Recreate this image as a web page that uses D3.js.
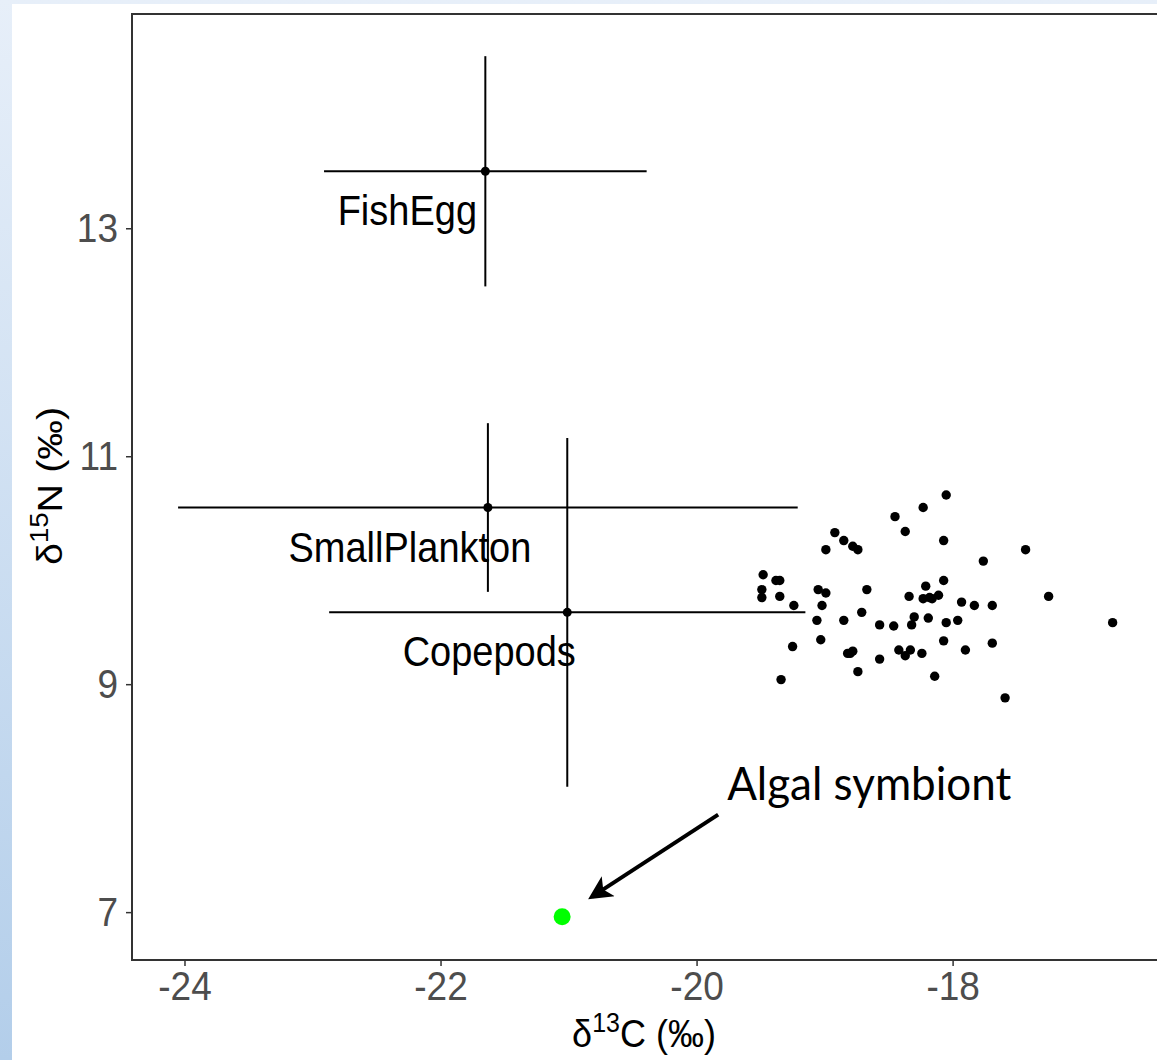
<!DOCTYPE html>
<html>
<head>
<meta charset="utf-8">
<script src="https://cdn.jsdelivr.net/npm/d3@7"></script>
<style>
  body { margin: 0; background: #fff; }
  #grafica { width: 1157px; height: 1060px; }
</style>
</head>
<body>
<div id="grafica"></div>
<script>
// Datos: grupos de presas (media ± desviación)
const grupos = ["FishEgg", "SmallPlankton", "Copepods"];
const mediaC = [-21.65, -21.63, -21.01];
const sdC = [1.26, 2.42, 1.86];
const mediaN = [13.50, 10.55, 9.63];
const sdN = [1.01, 0.74, 1.53];

// Datos: consumidores individuales (δ13C, δ15N)
const consumidorC = [
    -18.05, -18.23, -18.45, -18.37, -18.92, -18.85, -18.07, -18.78, -18.74, -18.99,
    -17.43, -17.76, -19.48, -19.38, -19.35, -18.07, -18.21, -19.49, -19.05, -18.99,
    -18.67, -19.49, -19.35, -18.34, -18.23, -18.18, -18.16, -18.11, -17.25, -19.24,
    -19.02, -17.93, -17.83, -17.69, -18.71, -19.06, -18.85, -18.30, -18.19, -18.32,
    -18.05, -17.96, -18.57, -18.46, -16.75, -19.25, -19.03, -18.07, -17.69, -18.82,
    -18.78, -18.80, -18.42, -18.33, -18.37, -18.24, -17.90, -18.57, -18.74, -18.14,
    -19.34, -17.59
];
const consumidorN = [
    10.66, 10.55, 10.47, 10.34, 10.33, 10.26, 10.26, 10.21, 10.18, 10.18,
    10.18, 10.08, 9.96, 9.91, 9.91, 9.91, 9.86, 9.83, 9.83, 9.80,
    9.83, 9.76, 9.77, 9.77, 9.75, 9.76, 9.75, 9.78, 9.77, 9.69,
    9.69, 9.72, 9.69, 9.69, 9.63, 9.56, 9.56, 9.59, 9.58, 9.52,
    9.54, 9.56, 9.52, 9.51, 9.54, 9.33, 9.39, 9.38, 9.36, 9.27,
    9.29, 9.27, 9.30, 9.30, 9.25, 9.27, 9.30, 9.22, 9.11, 9.07,
    9.04, 8.88
];

// Datos: simbionte algal
const simbionteC = [-21.05];
const simbionteN = [6.96];
const simbionteEtiqueta = ["Algal symbiont"];

// Ejes
const ticksX = [-24, -22, -20, -18];
const ticksY = [7, 9, 11, 13];

function dibujarGraficaIsotopos(DivArea) {
    // 1. Contenedor y lienzo
    const chartDiv = d3.select("#" + DivArea);
    chartDiv.selectAll("*").remove();

    const W = 1157, H = 1060;
    const panel = { left: 132, top: 14, right: 1160, bottom: 960 };
    const estira = 1.1; // el texto original sale algo estirado en vertical

    const svg = chartDiv
        .append("svg")
        .attr("width", W)
        .attr("height", H);

    // 2. Fondo tipo diapositiva (degradado azul claro en el borde)
    const defs = svg.append("defs");
    const grad = defs
        .append("linearGradient")
        .attr("id", "fondo")
        .attr("x1", 0).attr("y1", 0)
        .attr("x2", 0).attr("y2", 1);
    grad.append("stop").attr("offset", "0%").attr("stop-color", "#e7eff9");
    grad.append("stop").attr("offset", "100%").attr("stop-color", "#b3ceea");

    svg.append("rect")
        .attr("width", W).attr("height", H)
        .attr("fill", "url(#fondo)");
    svg.append("rect")
        .attr("x", 12).attr("y", 4)
        .attr("width", W - 12).attr("height", H - 4)
        .attr("fill", "#fff");

    // Marcador de flecha
    defs.append("marker")
        .attr("id", "flecha")
        .attr("viewBox", "0 0 10 10")
        .attr("refX", 8)
        .attr("refY", 5)
        .attr("markerWidth", 6.5)
        .attr("markerHeight", 6)
        .attr("markerUnits", "strokeWidth")
        .attr("orient", "auto")
        .append("path")
        .attr("d", "M0,0 L10,5 L0,10 L2.5,5 z")
        .attr("fill", "#000");

    // 3. Escalas
    const x = d3.scaleLinear()
        .domain([-24.41, -16.38])
        .range([panel.left, panel.right]);
    const y = d3.scaleLinear()
        .domain([6.58, 14.88])
        .range([panel.bottom, panel.top]);

    const fuente = "'Liberation Sans', Arial, sans-serif";

    // 4. Panel (borde)
    svg.append("rect")
        .attr("x", panel.left)
        .attr("y", panel.top)
        .attr("width", panel.right - panel.left + 20)
        .attr("height", panel.bottom - panel.top)
        .attr("fill", "none")
        .attr("stroke", "#333")
        .attr("stroke-width", 2);

    // 5. Ejes
    const ejeX = svg.append("g")
        .attr("transform", `translate(0,${panel.bottom})`)
        .call(d3.axisBottom(x).tickValues(ticksX).tickSize(6).tickPadding(4).tickFormat(d3.format("d")));
    const ejeY = svg.append("g")
        .attr("transform", `translate(${panel.left},0)`)
        .call(d3.axisLeft(y).tickValues(ticksY).tickSize(6).tickPadding(8).tickFormat(d3.format("d")));

    [ejeX, ejeY].forEach((g) => {
        g.select(".domain").remove();
        g.selectAll(".tick line").attr("stroke", "#333").attr("stroke-width", 1.5);
        g.selectAll(".tick text")
            .attr("fill", "#4d4d4d")
            .attr("transform", `scale(1,${estira})`)
            .style("font-family", fuente)
            .style("font-size", "37px");
    });
    // Guion corto como en R
    ejeX.selectAll(".tick text").text((d) => (d < 0 ? "-" : "") + Math.abs(d));

    // Títulos de ejes
    const tituloX = svg.append("text")
        .attr("transform", `translate(644,1047) scale(1,${estira})`)
        .attr("text-anchor", "middle")
        .style("font-family", fuente)
        .style("font-size", "36px")
        .attr("fill", "#000");
    tituloX.append("tspan").text("δ");
    tituloX.append("tspan").attr("dy", -14).style("font-size", "25px").text("13");
    tituloX.append("tspan").attr("dy", 14).text("C (‰)");

    const tituloY = svg.append("text")
        .attr("transform", `translate(62,486) rotate(-90) scale(${estira},1)`)
        .attr("text-anchor", "middle")
        .style("font-family", fuente)
        .style("font-size", "36px")
        .attr("fill", "#000");
    tituloY.append("tspan").text("δ");
    tituloY.append("tspan").attr("dy", -14).style("font-size", "25px").text("15");
    tituloY.append("tspan").attr("dy", 14).text("N (‰)");

    // 6. Consumidores (puntos negros)
    svg.append("g")
        .selectAll("circle")
        .data(consumidorC.map((c, i) => ({ c, n: consumidorN[i] })))
        .join("circle")
        .attr("cx", (d) => x(d.c))
        .attr("cy", (d) => y(d.n))
        .attr("r", 4.7)
        .attr("fill", "#000");

    // 7. Presas: barras de error cruzadas
    const presas = grupos.map((g, i) => ({
        grupo: g, c: mediaC[i], sc: sdC[i], n: mediaN[i], sn: sdN[i]
    }));
    const gp = svg.append("g");
    gp.selectAll("line.h")
        .data(presas)
        .join("line")
        .attr("class", "h")
        .attr("x1", (d) => x(d.c - d.sc))
        .attr("x2", (d) => x(d.c + d.sc))
        .attr("y1", (d) => y(d.n))
        .attr("y2", (d) => y(d.n))
        .attr("stroke", "#000")
        .attr("stroke-width", 2);
    gp.selectAll("line.v")
        .data(presas)
        .join("line")
        .attr("class", "v")
        .attr("x1", (d) => x(d.c))
        .attr("x2", (d) => x(d.c))
        .attr("y1", (d) => y(d.n - d.sn))
        .attr("y2", (d) => y(d.n + d.sn))
        .attr("stroke", "#000")
        .attr("stroke-width", 2);
    gp.selectAll("circle")
        .data(presas)
        .join("circle")
        .attr("cx", (d) => x(d.c))
        .attr("cy", (d) => y(d.n))
        .attr("r", 4.5)
        .attr("fill", "#000");
    gp.selectAll("text")
        .data(presas)
        .join("text")
        .attr("transform", (d) => `translate(${x(d.c) - 78},${y(d.n) + 39}) scale(1,${estira})`)
        .attr("dy", "0.36em")
        .attr("text-anchor", "middle")
        .style("font-family", fuente)
        .style("font-size", "38px")
        .attr("fill", "#000")
        .text((d) => d.grupo);

    // 8. Simbionte algal (punto verde) y anotación con flecha
    const simb = simbionteC.map((c, i) => ({ c, n: simbionteN[i], etiqueta: simbionteEtiqueta[i] }));
    svg.append("g")
        .selectAll("circle")
        .data(simb)
        .join("circle")
        .attr("cx", (d) => x(d.c))
        .attr("cy", (d) => y(d.n))
        .attr("r", 8.5)
        .attr("fill", "#00ff00");

    const anot = svg.append("g").selectAll("g").data(simb).join("g");
    anot.append("line")
        .attr("x1", (d) => x(d.c) + 156)
        .attr("y1", (d) => y(d.n) - 102)
        .attr("x2", (d) => x(d.c) + 30)
        .attr("y2", (d) => y(d.n) - 20)
        .attr("stroke", "#000")
        .attr("stroke-width", 4)
        .attr("marker-end", "url(#flecha)");
    anot.append("text")
        .attr("transform", (d) => `translate(${x(d.c) + 165},${y(d.n) - 117}) scale(1,1.06)`)
        .style("font-family", "Lato, 'Open Sans', sans-serif")
        .style("font-size", "44px")
        .attr("fill", "#000")
        .text((d) => d.etiqueta);
}

dibujarGraficaIsotopos("grafica");
</script>
</body>
</html>
